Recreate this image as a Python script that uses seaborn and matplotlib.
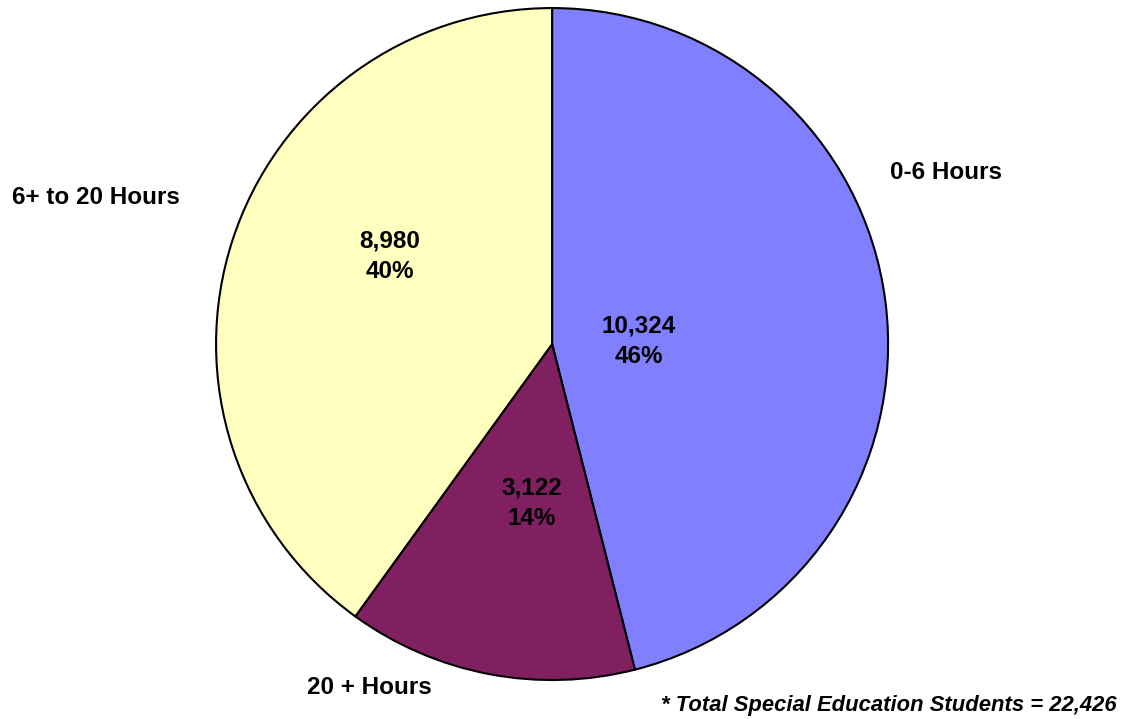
import matplotlib
matplotlib.use("Agg")
import matplotlib.pyplot as plt
import seaborn as sns

sns.set_theme(style="white")
plt.rcParams['font.family'] = ['Liberation Sans', 'DejaVu Sans']
plt.rcParams['text.color'] = 'black'

# 數據
categories = ['0-6 Hours', '20 + Hours', '6+ to 20 Hours']
counts = [10324, 3122, 8980]
total = 22426
colors = ['#8080FF', '#802060', '#FFFFC0']

# 標籤位置 (版面用)
outer_pos = [(1.173, 0.512), (-0.545, -1.021), (-1.357, 0.4375)]
inner_pos = [(0.259, 0.009), (-0.06, -0.473), (-0.482, 0.262)]

fig = plt.figure(figsize=(11.24, 7.19), dpi=100)
ax = fig.add_axes([0, 0, 1, 1])

wedges, _ = ax.pie(counts, colors=colors, startangle=90, counterclock=False,
                   wedgeprops=dict(edgecolor='black', linewidth=1.5))

for i, (cat, n) in enumerate(zip(categories, counts)):
    ax.text(*outer_pos[i], cat, ha='center', va='center', fontsize=17.5, fontweight='bold')
    pct = round(100 * n / sum(counts))
    ax.text(*inner_pos[i], f'{n:,}\n{pct}%', ha='center', va='center', fontsize=17.5,
            fontweight='bold', linespacing=1.4)

ax.text(1.68, -1.077, f'* Total Special Education Students = {total:,}', ha='right', va='center',
        fontsize=15.8, fontweight='bold', fontstyle='italic')

ax.set_aspect('auto')
ax.set_xlim(-1.643, 1.702)
ax.set_ylim(-1.116, 1.024)
ax.axis('off')

fig.savefig('out.png', dpi=100)
